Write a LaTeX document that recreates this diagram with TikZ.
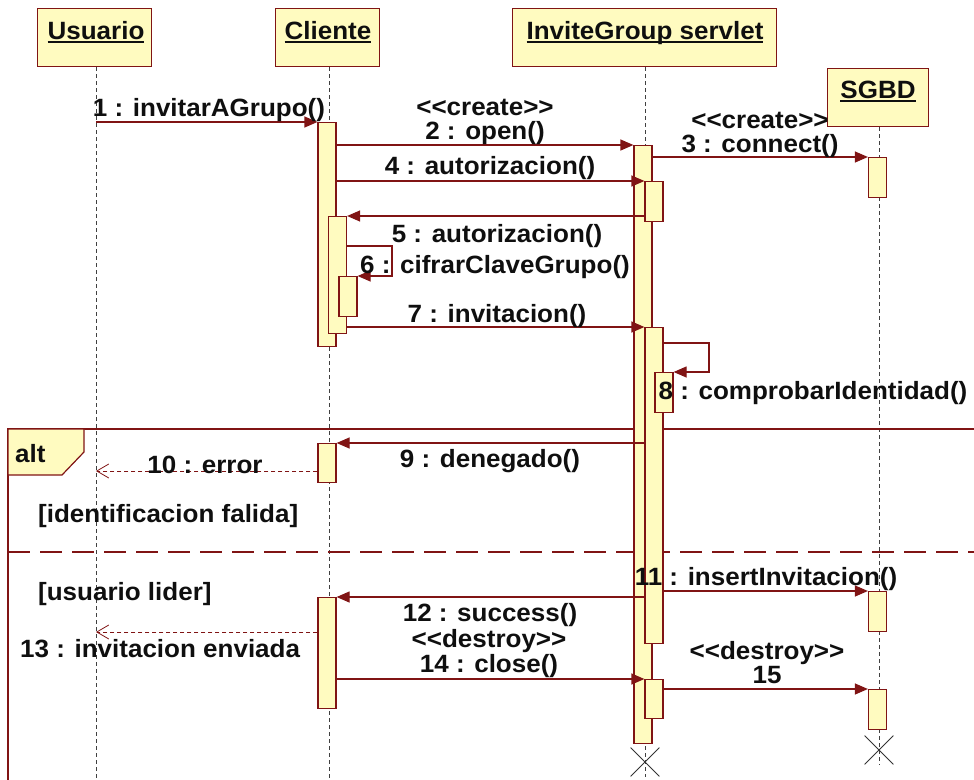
\documentclass[tikz,border=0pt]{standalone}
\usepackage{fontspec}
\setmainfont{Liberation Sans}
\newfontfamily\dfont{Liberation Sans Bold}[Ligatures=TeXOff,FakeStretch=1.04]
\usetikzlibrary{arrows.meta,shapes.misc}

\definecolor{umlfill}{RGB}{255,251,192}
\definecolor{umlline}{RGB}{128,20,20}
\definecolor{umltext}{RGB}{15,15,15}

% underlined object name
\newcommand\objname[1]{\setbox0\hbox{#1}\rlap{\rule[-4pt]{\wd0}{2pt}}\box0}

\tikzset{
  head/.style={draw=umlline, fill=umlfill, line width=1.3pt, inner sep=0pt, anchor=north west},
  bar/.style={draw=umlline, fill=umlfill, line width=1.2pt, minimum width=18pt, inner sep=0pt, anchor=north},
  life/.style={draw=black!75, line width=0.9pt, dash pattern=on 4pt off 3pt},
  msg/.style={draw=umlline, line width=1.2pt, -{Triangle[length=13pt,width=11pt]}},
  ret/.style={draw=umlline, line width=1pt, dash pattern=on 4pt off 3pt,
              -{Straight Barb[length=12pt,width=14pt,line width=0.8pt]}},
  lbl/.style={font=\dfont\fontsize{25}{25}\selectfont, text=umltext, inner sep=0pt, anchor=base},
  frame/.style={draw=umlline, line width=1.2pt},
  sepline/.style={draw=umlline, line width=1.2pt, dash pattern=on 22pt off 10pt},
  destroy/.style={cross out, draw=black!80, line width=0.8pt, minimum size=28pt, inner sep=0pt},
}

\begin{document}
\begin{tikzpicture}[x=1pt,y=-1pt]
\useasboundingbox (0,0) rectangle (974,779);
\clip (0,0) rectangle (974,779);

% object heads
\node[head, minimum width=114pt, minimum height=58pt] (usu) at (37,8) {};
\node[head, minimum width=104pt, minimum height=58pt] (cli) at (275,8) {};
\node[head, minimum width=264pt, minimum height=58pt] (srv) at (512,8) {};
\node[head, minimum width=101pt, minimum height=58pt] (db) at (827,68) {};
\node[lbl] (usuT) at (96,39) {\objname{Usuario}};
\node[lbl] (cliT) at (328,39) {\objname{Cliente}};
\node[lbl] (srvT) at (645,39) {\objname{InviteGroup servlet}};
\node[lbl] (dbT) at (878,98) {\objname{SGBD}};

% lifeline ends
\coordinate (usuEnd) at (96,779);
\coordinate (cliEnd) at (329,779);
\coordinate (srvEnd) at (645,777);
\coordinate (dbEnd) at (879,765);
\draw[life] (usu.south -| usuEnd) -- (usuEnd);
\draw[life] (cli.south -| cliEnd) -- (cliEnd);
\draw[life] (srv.south -| srvEnd) -- (srvEnd);
\draw[life] (db.south -| dbEnd) -- (dbEnd);

% alt combined fragment
\draw[frame] (8,429) rectangle (990,800);
\draw[sepline] (8,552) -- (990,552);
\draw[frame, fill=umlfill] (8,429) -- (84,429) -- (84,452) -- (62,475) -- (8,475) -- cycle;
\node[lbl, anchor=base west] (altT) at (15,462) {alt};
\node[lbl, anchor=base west] (g1) at (38,522) {[identificacion falida]};
\node[lbl, anchor=base west] (g2) at (38,600) {[usuario lider]};

% activation bars
\node[bar, minimum height=224pt] (c1) at (327,122) {};
\node[bar, minimum height=117pt] (c2) at (337.5,216) {};
\node[bar, minimum height=40pt] (c3) at (348,276) {};
\node[bar, minimum height=39pt] (c4) at (327,443) {};
\node[bar, minimum height=111pt] (c5) at (327,597) {};
\node[bar, minimum height=598pt] (s1) at (643,145) {};
\node[bar, minimum height=40pt] (s2) at (654,181) {};
\node[bar, minimum height=316pt] (s3) at (654,327) {};
\node[bar, minimum height=40pt] (s4) at (664,372) {};
\node[bar, minimum height=39pt] (s5) at (654,679) {};
\node[bar, minimum height=40pt] (d1) at (877.5,157) {};
\node[bar, minimum height=40pt] (d2) at (877.5,591) {};
\node[bar, minimum height=40pt] (d3) at (877.5,689) {};

% destruction marks
\node[destroy] (xs) at (645,762) {};
\node[destroy] (xd) at (879,750) {};

% messages
\draw[msg] (c1.north west -| usuEnd) -- (c1.north west);
\draw[msg] (c1.east |- s1.north) -- (s1.north west);
\draw[msg] (s1.east |- d1.north) -- (d1.north west);
\draw[msg] (c1.east |- s2.north) -- (s2.north west);
\draw[msg] (s2.west |- c2.north) -- (c2.north east);
\coordinate (l6) at (392,246);
\draw[msg] (c2.east |- l6) -- (l6) |- (c3.north east);
\draw[msg] (c2.east |- s3.north) -- (s3.north west);
\coordinate (l8) at (709,343);
\draw[msg] (s3.east |- l8) -- (l8) |- (s4.north east);
\draw[msg] (s3.west |- c4.north) -- (c4.north east);
\coordinate (u10) at (96,471);
\draw[ret] (c4.west |- u10) -- (u10);
\draw[msg] (s3.east |- d2.north) -- (d2.north west);
\draw[msg] (s3.west |- c5.north) -- (c5.north east);
\coordinate (u13) at (96,632);
\draw[ret] (c5.west |- u13) -- (u13);
\draw[msg] (c5.east |- s5.north) -- (s5.north west);
\draw[msg] (s5.east |- d3.north) -- (d3.north west);

% message labels
\node[lbl] (m1) at (209,116) {1 : invitarAGrupo()};
\node[lbl] (m2s) at (485,115) {<<create>>};
\node[lbl] (m2) at (485,139) {2 : open()};
\node[lbl] (m3s) at (760,128) {<<create>>};
\node[lbl] (m3) at (760,152) {3 : connect()};
\node[lbl] (m4) at (490,174) {4 : autorizacion()};
\node[lbl] (m5) at (497,242) {5 : autorizacion()};
\node[lbl] (m6) at (495,273) {6 : cifrarClaveGrupo()};
\node[lbl] (m7) at (497,322) {7 : invitacion()};
\node[lbl] (m8) at (813,399) {8 : comprobarIdentidad()};
\node[lbl] (m9) at (490,467) {9 : denegado()};
\node[lbl] (m10) at (205,473) {10 : error};
\node[lbl] (m11) at (766,585) {11 : insertInvitacion()};
\node[lbl] (m12) at (490,621) {12 : success()};
\node[lbl, anchor=base west] (m13) at (20,657) {13 : invitacion enviada};
\node[lbl] (m14s) at (489,647) {<<destroy>>};
\node[lbl] (m14) at (489,672) {14 : close()};
\node[lbl] (m15s) at (767,659) {<<destroy>>};
\node[lbl] (m15) at (767,683) {15};
\end{tikzpicture}
\end{document}
